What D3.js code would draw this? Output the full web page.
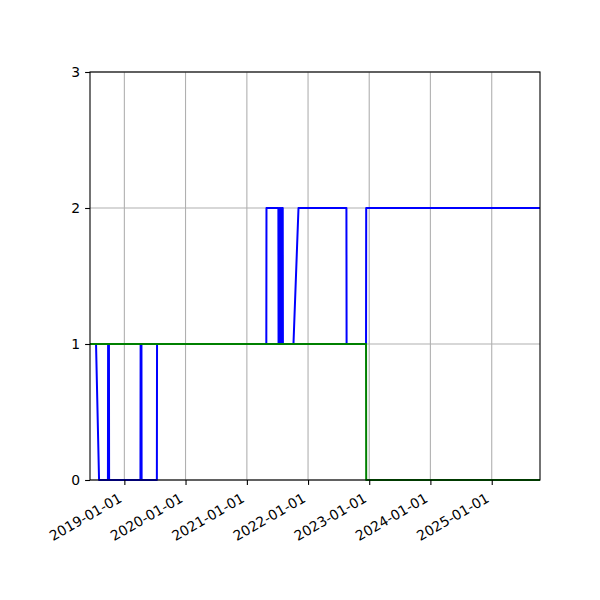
<!DOCTYPE html>
<meta charset="utf-8">
<script src="https://d3js.org/d3.v7.min.js"></script>
<style>
  body { margin: 0; background: #fff; }
  text { font-family: "DejaVu Sans", sans-serif; font-size: 13.9px; fill: #000; }
</style>
<div id="chart"></div>
<script>

// x range of the axes
var xStart = "2018-06-10", xEnd = "2025-10-16";

// blue series
var blueDates = ["2018-06-10","2018-07-16","2018-08-03","2018-09-25","2018-09-26","2018-10-01","2018-10-02",
  "2019-04-07","2019-04-08","2019-04-13","2019-04-14","2019-07-14","2019-07-15",
  "2021-04-27","2021-04-28","2021-07-08","2021-07-09","2021-07-14","2021-07-15","2021-07-20","2021-07-21",
  "2021-07-26","2021-07-27","2021-08-03","2021-08-04","2021-10-06","2021-11-05",
  "2022-08-18","2022-08-19","2022-12-13","2022-12-14","2025-10-16"];
var blueValues = [1,1,0,0,1,1,0,
  0,1,1,0,0,1,
  1,2,2,1,1,2,2,1,
  1,2,2,1,1,2,
  2,1,1,2,2];

// green series
var greenDates = ["2018-06-10","2022-12-13","2022-12-14","2025-10-16"];
var greenValues = [1,1,0,0];

var xTicks = ["2019-01-01","2020-01-01","2021-01-01","2022-01-01","2023-01-01","2024-01-01","2025-01-01"];
var yTicks = [0,1,2,3];

var margin = {top: 72, right: 60, bottom: 120, left: 90},
    width = 600 - margin.left - margin.right,
    height = 600 - margin.top - margin.bottom;

var parse = d3.utcParse("%Y-%m-%d");

var svg = d3.select("#chart")
  .append("svg")
    .attr("width", 600)
    .attr("height", 600)
  .append("g")
    .attr("transform", "translate(" + margin.left + "," + margin.top + ")");

var x = d3.scaleUtc()
  .domain([parse(xStart), parse(xEnd)])
  .range([0, width]);

var y = d3.scaleLinear()
  .domain([0, 3])
  .range([height, 0]);

// grid
svg.append("g")
  .selectAll("line.vg")
  .data(xTicks)
  .enter().append("line")
    .attr("x1", function(d) { return x(parse(d)); })
    .attr("x2", function(d) { return x(parse(d)); })
    .attr("y1", 0).attr("y2", height)
    .attr("stroke", "#b0b0b0").attr("stroke-width", 1.1);
svg.append("g")
  .selectAll("line.hg")
  .data(yTicks)
  .enter().append("line")
    .attr("x1", 0).attr("x2", width)
    .attr("y1", function(d) { return y(d); })
    .attr("y2", function(d) { return y(d); })
    .attr("stroke", "#b0b0b0").attr("stroke-width", 1.1);

var line = d3.line()
  .x(function(d) { return x(d[0]); })
  .y(function(d) { return y(d[1]); });

var blue = blueDates.map(function(d, i) { return [parse(d), blueValues[i]]; });
var green = greenDates.map(function(d, i) { return [parse(d), greenValues[i]]; });

svg.append("path")
  .datum(blue)
  .attr("fill", "none")
  .attr("stroke", "#0000ff")
  .attr("stroke-width", 2)
  .attr("stroke-linejoin", "round")
  .attr("d", line);

svg.append("path")
  .datum(green)
  .attr("fill", "none")
  .attr("stroke", "#008000")
  .attr("stroke-width", 2)
  .attr("stroke-linejoin", "round")
  .attr("d", line);

// X axis
var xAxis = svg.append("g")
  .attr("transform", "translate(0," + height + ")")
  .call(d3.axisBottom(x)
    .tickValues(xTicks.map(parse))
    .tickFormat(d3.utcFormat("%Y-%m-%d"))
    .tickSizeInner(4.9).tickSizeOuter(0).tickPadding(4.9));
xAxis.select(".domain").remove();
xAxis.selectAll(".tick line").attr("stroke", "#000").attr("stroke-width", 1.1);
xAxis.selectAll("text")
  .attr("y", 0).attr("dy", 0)
  .attr("transform", "translate(-2,21)rotate(-30)")
  .style("text-anchor", "end")
  .style("font-size", "13.9px")
  .style("font-family", "DejaVu Sans, sans-serif");

// Y axis
var yAxis = svg.append("g")
  .call(d3.axisLeft(y)
    .tickValues(yTicks)
    .tickFormat(d3.format("d"))
    .tickSizeInner(4.9).tickSizeOuter(0).tickPadding(4.9));
yAxis.select(".domain").remove();
yAxis.selectAll(".tick line").attr("stroke", "#000").attr("stroke-width", 1.1);
yAxis.selectAll("text")
  .style("font-size", "13.9px")
  .style("font-family", "DejaVu Sans, sans-serif");

// frame
svg.append("rect")
  .attr("x", 0).attr("y", 0)
  .attr("width", width).attr("height", height)
  .attr("fill", "none")
  .attr("stroke", "#000")
  .attr("stroke-width", 1.1);

</script>
